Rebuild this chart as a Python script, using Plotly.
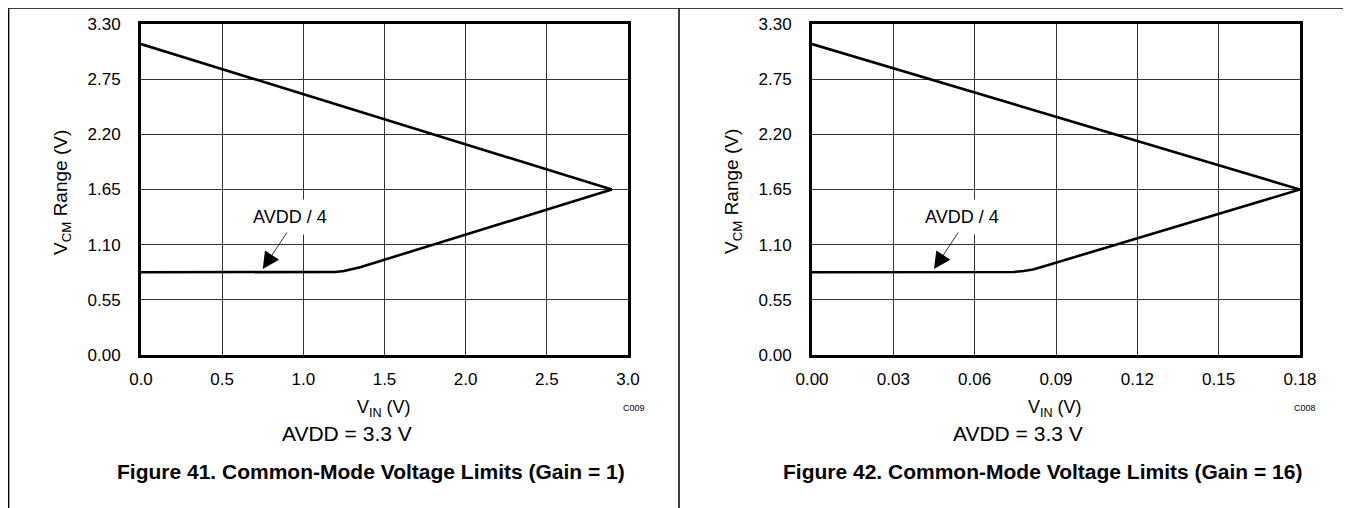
import plotly.graph_objects as go

# page is rendered inside an 8px body margin, so the figure is 8px smaller
W, H = 1343, 500
OFF = 8

# ---- data ----
# Figure 41 (Gain = 1)
g1_x_upper = [0.0, 2.90]
g1_y_upper = [3.10, 1.65]
g1_x_lower = [0.0, 1.15, 1.20, 1.25, 1.30, 1.35, 2.90]
g1_y_lower = [0.825, 0.825, 0.828, 0.8375, 0.853, 0.875, 1.65]

# Figure 42 (Gain = 16)
g16_x_upper = [0.0, 0.18]
g16_y_upper = [3.10, 1.65]
g16_x_lower = [0.0, 0.071, 0.0745, 0.078, 0.0815, 0.085, 0.18]
g16_y_lower = [0.825, 0.825, 0.828, 0.8375, 0.853, 0.880, 1.65]

y_ticks = [0.0, 0.55, 1.10, 1.65, 2.20, 2.75, 3.30]
y_labels = ["0.00", "0.55", "1.10", "1.65", "2.20", "2.75", "3.30"]
x1_ticks = [0.0, 0.5, 1.0, 1.5, 2.0, 2.5, 3.0]
x1_labels = ["0.0", "0.5", "1.0", "1.5", "2.0", "2.5", "3.0"]
x2_ticks = [0.0, 0.03, 0.06, 0.09, 0.12, 0.15, 0.18]
x2_labels = ["0.00", "0.03", "0.06", "0.09", "0.12", "0.15", "0.18"]

captions = ["Figure 41. Common-Mode Voltage Limits (Gain = 1)",
            "Figure 42. Common-Mode Voltage Limits (Gain = 16)"]
codes = ["C009", "C008"]

FONT = "Liberation Sans, Arial, sans-serif"


def px(x):
    # x in screenshot pixels -> paper fraction
    return (x - OFF) / W


def py(y):
    return 1 - (y - OFF) / H


fig = go.Figure()
line_style = dict(color="black", width=2.6)
fig.add_trace(go.Scatter(x=g1_x_upper, y=g1_y_upper, mode="lines", line=line_style,
                         xaxis="x", yaxis="y", showlegend=False, hoverinfo="skip"))
fig.add_trace(go.Scatter(x=g1_x_lower, y=g1_y_lower, mode="lines", line=line_style,
                         xaxis="x", yaxis="y", showlegend=False, hoverinfo="skip"))
fig.add_trace(go.Scatter(x=g16_x_upper, y=g16_y_upper, mode="lines", line=line_style,
                         xaxis="x2", yaxis="y2", showlegend=False, hoverinfo="skip"))
fig.add_trace(go.Scatter(x=g16_x_lower, y=g16_y_lower, mode="lines", line=line_style,
                         xaxis="x2", yaxis="y2", showlegend=False, hoverinfo="skip"))

ydom = [py(355), py(24)]
common_axis = dict(showgrid=True, gridcolor="#333333", gridwidth=1, zeroline=False,
                   showline=True, linecolor="black", linewidth=3, mirror=True,
                   ticks="", automargin=False,
                   tickfont=dict(family=FONT, size=17, color="black"))

fig.update_layout(
    width=W, height=H, autosize=False,
    margin=dict(l=0, r=0, t=0, b=0, pad=0),
    paper_bgcolor="white", plot_bgcolor="white",
    xaxis=dict(domain=[px(141), px(628)], range=[0, 3], tickvals=x1_ticks,
               ticktext=x1_labels, anchor="y", ticklabelstandoff=7, **common_axis),
    yaxis=dict(domain=ydom, range=[0, 3.3], tickvals=y_ticks, ticktext=y_labels,
               anchor="x", ticklabelstandoff=14, **common_axis),
    xaxis2=dict(domain=[px(812), px(1300)], range=[0, 0.18], tickvals=x2_ticks,
                ticktext=x2_labels, anchor="y2", ticklabelstandoff=7, **common_axis),
    yaxis2=dict(domain=ydom, range=[0, 3.3], tickvals=y_ticks, ticktext=y_labels,
                anchor="x2", ticklabelstandoff=14, **common_axis),
)

# page frame
frame = dict(type="line", xref="paper", yref="paper", line=dict(color="black", width=1.5))
fig.add_shape(x0=px(8.6), x1=1, y0=py(8.0), y1=py(8.0), **frame)
fig.add_shape(x0=px(8.6), x1=px(8.6), y0=py(8.0), y1=0, **frame)
fig.add_shape(x0=px(679), x1=px(679), y0=py(8.0), y1=0, **frame)

anns = []
for i, (off, xr, yr, xmax) in enumerate([(0, "x", "y", 3.0), (671, "x2", "y2", 0.18)]):
    s = xmax / 3.0
    anns.append(dict(xref=xr, yref=yr, x=0.92 * s, y=1.376, text="AVDD / 4", showarrow=False,
                     xanchor="center", yanchor="middle",
                     font=dict(family=FONT, size=18, color="black"),
                     bgcolor="white", borderpad=7))
    anns.append(dict(xref=xr, yref=yr, x=0.75 * s, y=0.857, axref=xr, ayref=yr,
                     ax=0.905 * s, ay=1.236, text="", showarrow=True,
                     arrowhead=2, arrowsize=4.2, arrowwidth=0.8, arrowcolor="black"))
    paper = dict(xref="paper", yref="paper", showarrow=False, xanchor="center", yanchor="middle")
    anns.append(dict(x=px(62 + off), y=py(192), text="V<sub>CM</sub> Range (V)", textangle=-90,
                     font=dict(family=FONT, size=19, color="black"), **paper))
    anns.append(dict(x=px(384 + off), y=py(408), text="V<sub>IN</sub> (V)",
                     font=dict(family=FONT, size=18, color="black"), **paper))
    anns.append(dict(x=px(634 + off), y=py(408), text=codes[i],
                     font=dict(family=FONT, size=9, color="black"), **paper))
    anns.append(dict(x=px(347 + off), y=py(433), text="AVDD = 3.3 V",
                     font=dict(family=FONT, size=21, color="black"), **paper))
    anns.append(dict(x=px(371 + off), y=py(471), text="<b>" + captions[i] + "</b>",
                     font=dict(family=FONT, size=21, color="black"), **paper))

fig.update_layout(annotations=anns)
fig.write_html("out.html")
